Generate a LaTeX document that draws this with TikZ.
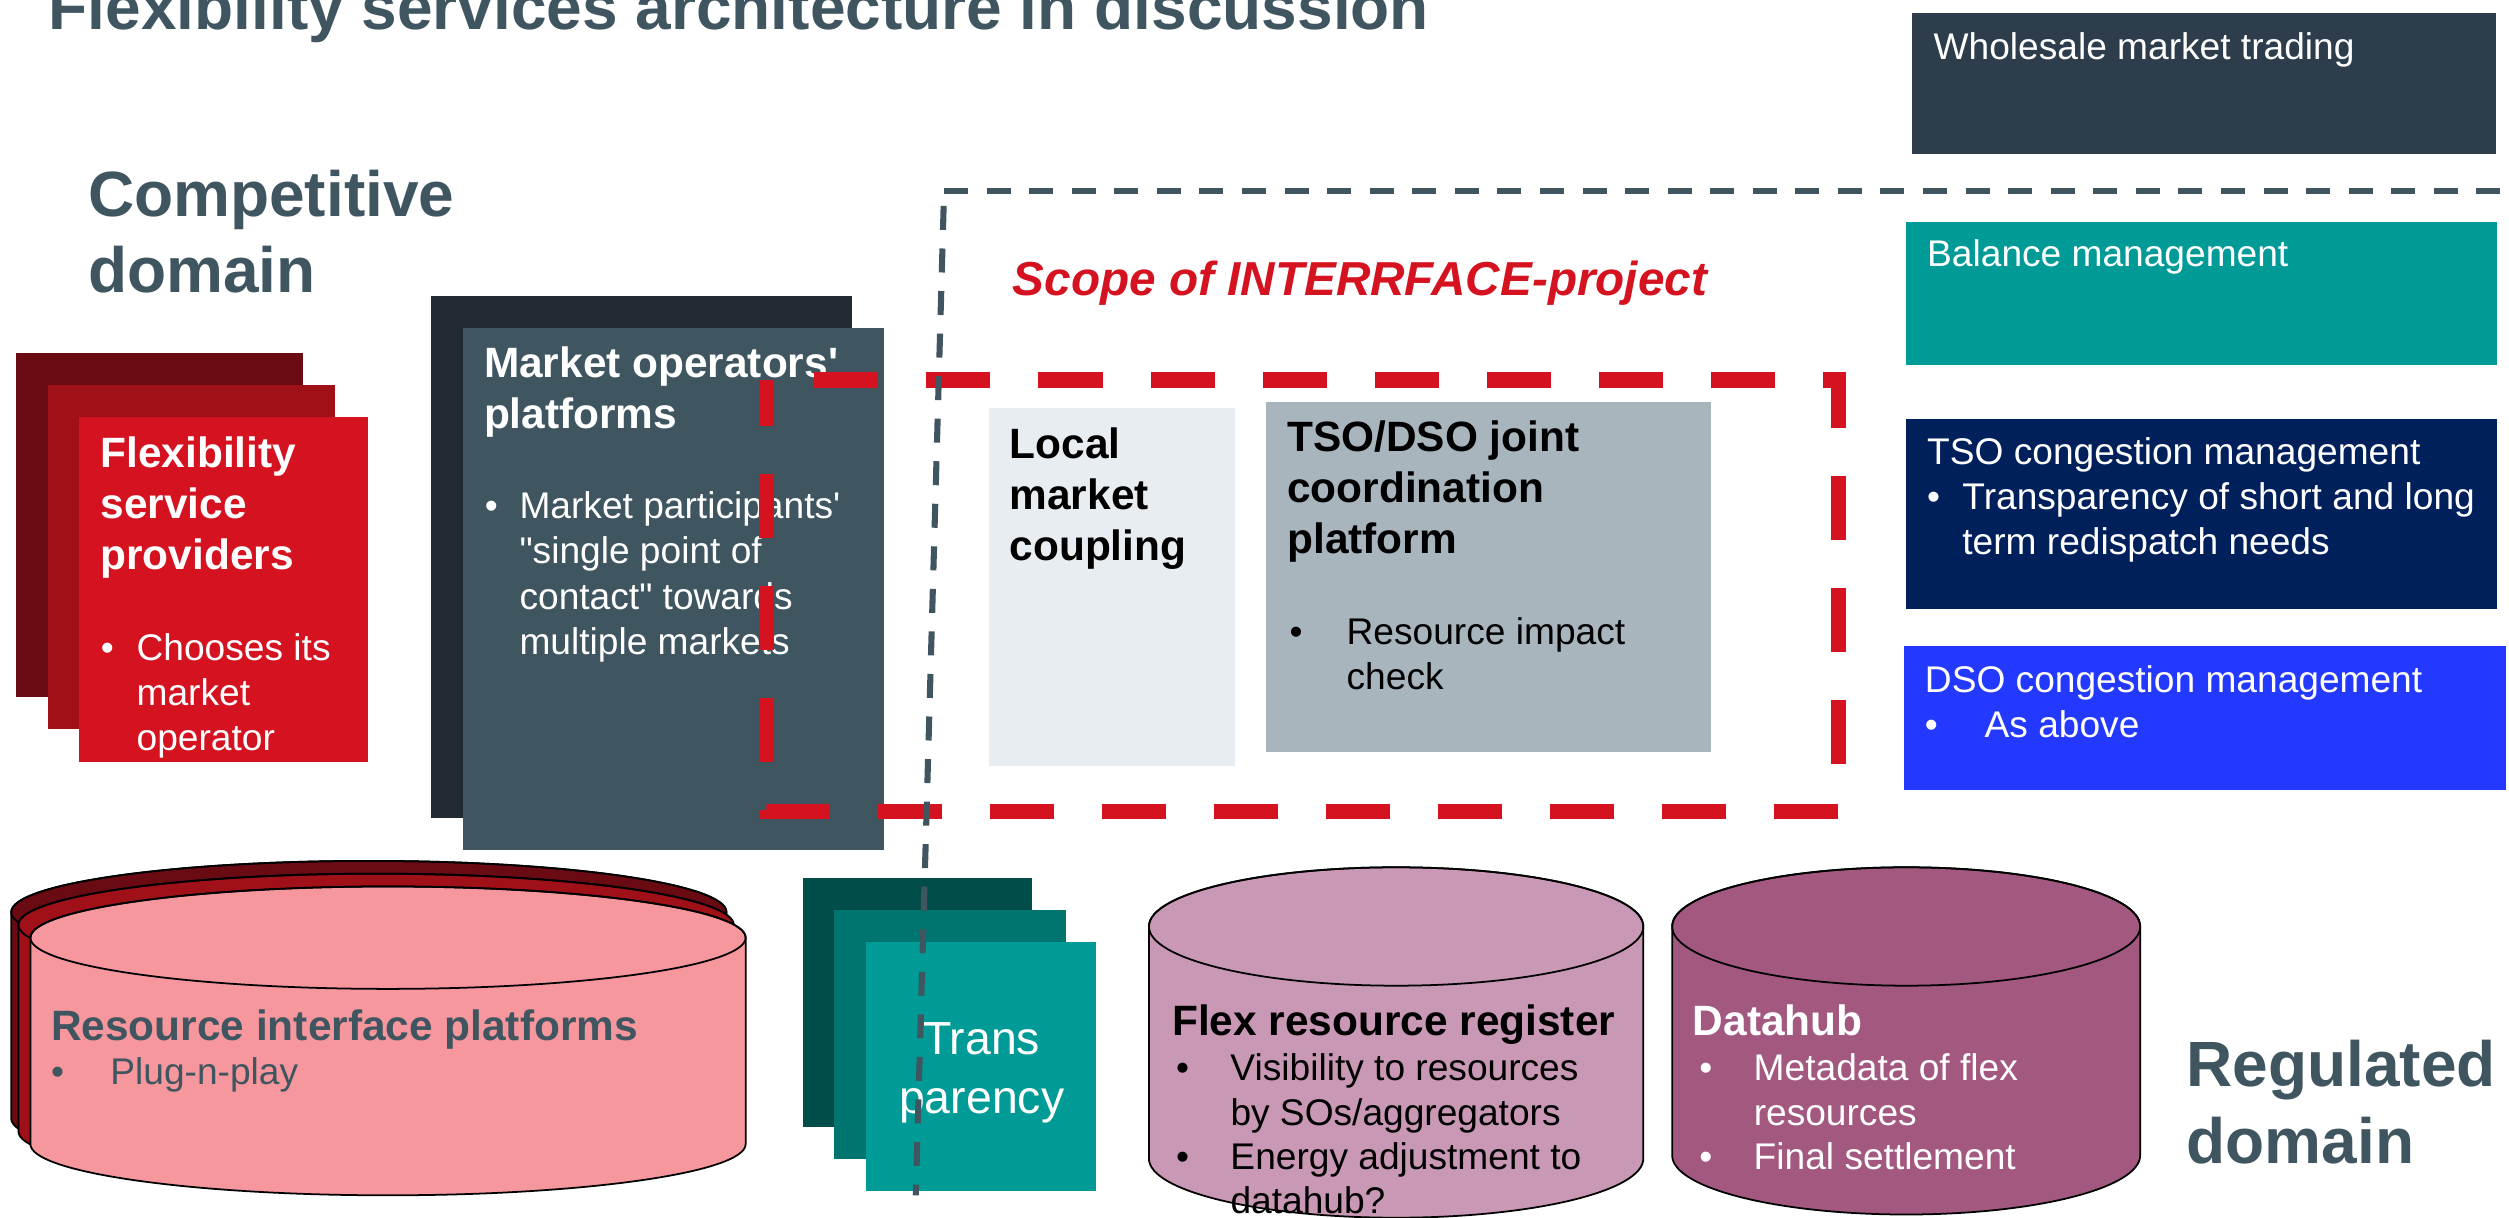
\documentclass[tikz,border=0pt]{standalone}
\usepackage{fontspec}
\newfontfamily\lsans{Liberation Sans}
\definecolor{cSlate}{RGB}{63,85,96}
\definecolor{cMOback}{RGB}{34,43,49}
\definecolor{cWholesale}{RGB}{46,61,75}
\definecolor{cTeal}{RGB}{0,155,150}
\definecolor{cTealMid}{RGB}{0,117,112}
\definecolor{cTealDark}{RGB}{0,77,74}
\definecolor{cNavy}{RGB}{0,32,91}
\definecolor{cBlue}{RGB}{36,57,255}
\definecolor{cRedDark}{RGB}{106,10,18}
\definecolor{cRedMid}{RGB}{160,16,24}
\definecolor{cRed}{RGB}{213,19,32}
\definecolor{cPink}{RGB}{245,151,156}
\definecolor{cLocal}{RGB}{232,237,241}
\definecolor{cJoint}{RGB}{168,181,188}
\definecolor{cFlex}{RGB}{200,152,180}
\definecolor{cHub}{RGB}{162,88,127}
\tikzset{
  box/.style={inner sep=0pt, outer sep=0pt, anchor=north west, draw=none},
  rtxt/.style={inner sep=0pt, outer sep=0pt, anchor=base west, align=left, font=\lsans\fontsize{23.2}{28}\selectfont},
  btxt/.style={rtxt, font=\lsans\bfseries\fontsize{26.5}{32}\selectfont},
  htxt/.style={rtxt, font=\lsans\bfseries\fontsize{40}{48}\selectfont, text=cSlate},
  cylout/.style={draw=black, line width=1.1pt},
  scopeline/.style={draw=cRed, line width=9.5pt, dash pattern=on 40pt off 30pt, dash phase=40pt},
  domline/.style={draw=cSlate, line width=3.8pt, dash pattern=on 15pt off 11.6pt},
}
\begin{document}
\begin{tikzpicture}[x=1pt,y=-1pt]
\useasboundingbox (0,0) rectangle (1568,760.6);

% right column (multi-line text nodes are placed by the baseline of their last line)
\node[box, fill=cWholesale, minimum width=365pt, minimum height=88pt] (wmt) at (1195,8) {};
\node[rtxt, text=white] (wmtT) at (1208.4,36.9) {Wholesale market trading};
\node[box, fill=cTeal, minimum width=369pt, minimum height=89.7pt] (bal) at (1191.3,138.5) {};
\node[rtxt, text=white] (balT) at (1204.4,166.7) {Balance management};
\node[box, fill=cNavy, minimum width=369pt, minimum height=118.8pt] (tso) at (1191.3,262) {};
\node[rtxt, text=white] (tsoT) at (1204.4,346.5) {TSO congestion management\\\makebox[22pt][l]{•}Transparency of short and long\\\hspace*{22pt}term redispatch needs};
\node[box, fill=cBlue, minimum width=376pt, minimum height=90pt] (dso) at (1190,404) {};
\node[rtxt, text=white] (dsoT) at (1203,460.6) {DSO congestion management\\\makebox[37.3pt][l]{•}As above};

% flexibility service providers
\node[box, fill=cRedDark, minimum width=179.5pt, minimum height=215pt] (fsp3) at (10,220.6) {};
\node[box, fill=cRedMid, minimum width=179.5pt, minimum height=215pt] (fsp2) at (30,240.6) {};
\node[box, fill=cRed, minimum width=180.5pt, minimum height=216pt] (fsp1) at (49.5,260.3) {};
\node[btxt, text=white] (fspT) at (62.8,356) {Flexibility\\service\\providers};
\node[rtxt, text=white] (fspB) at (63,469) {\makebox[22.4pt][l]{•}Chooses its\\\hspace*{22.4pt}market\\\hspace*{22.4pt}operator};

% market operators
\node[box, fill=cMOback, minimum width=263pt, minimum height=326pt] (mo2) at (269.5,185) {};
\node[box, fill=cSlate, minimum width=263pt, minimum height=326pt] (mo1) at (289.5,205) {};
\node[btxt, text=white] (moT) at (302.5,268) {Market operators'\\platforms};
\node[rtxt, text=white, font=\lsans\fontsize{23.2}{28.4}\selectfont] (moB) at (303,409.2) {\makebox[21.7pt][l]{•}Market participants'\\\hspace*{21.7pt}"single point of\\\hspace*{21.7pt}contact" towards\\\hspace*{21.7pt}multiple markets};

% local market coupling, joint platform
\node[box, fill=cLocal, minimum width=154pt, minimum height=224pt] (lmc) at (618,255) {};
\node[btxt, text=black] (lmcT) at (631,350.5) {Local\\market\\coupling};
\node[box, fill=cJoint, minimum width=278pt, minimum height=219pt] (jcp) at (791,251) {};
\node[btxt, text=black] (jcpT) at (804.5,346) {TSO/DSO joint\\coordination\\platform};
\node[rtxt, text=black] (jcpB) at (806,431) {\makebox[35.6pt][l]{•}Resource impact\\\hspace*{35.6pt}check};

% scope rectangle
\coordinate (s1) at (479,237.5);
\coordinate (s2) at (1149,507);
\draw[scopeline] (s1) -- (s1 -| s2) -- (s2) -- (s2 -| s1) -- cycle;
\node[rtxt, font=\lsans\bfseries\itshape\fontsize{29.8}{36}\selectfont, text=cRed] (scopeT) at (633,184.4) {Scope of INTERRFACE-project};

% resource interface platforms (stacked cylinders)
\filldraw[cylout, fill=cRedDark] (7,570) -- (7,699) arc[start angle=180, end angle=360, x radius=223.5pt, y radius=32pt] -- (454,570) arc[start angle=0, end angle=180, x radius=223.5pt, y radius=32pt] -- cycle;
\draw[cylout] (230.5,570) ellipse [x radius=223.5pt, y radius=32pt];
\filldraw[cylout, fill=cRedMid] (11.5,578) -- (11.5,707) arc[start angle=180, end angle=360, x radius=223.5pt, y radius=32pt] -- (458.5,578) arc[start angle=0, end angle=180, x radius=223.5pt, y radius=32pt] -- cycle;
\draw[cylout] (235,578) ellipse [x radius=223.5pt, y radius=32pt];
\filldraw[cylout, fill=cPink] (19,586) -- (19,715) arc[start angle=180, end angle=360, x radius=223.5pt, y radius=32pt] -- (466,586) arc[start angle=0, end angle=180, x radius=223.5pt, y radius=32pt] -- cycle;
\draw[cylout] (242.5,586) ellipse [x radius=223.5pt, y radius=32pt];
\node[btxt, text=cSlate] (ripT) at (32,650) {Resource interface platforms};
\node[rtxt, text=cSlate] (ripB) at (32,678) {\makebox[37pt][l]{•}Plug-n-play};

% transparency
\node[box, fill=cTealDark, minimum width=143pt, minimum height=155pt] (tr3) at (502,549) {};
\node[box, fill=cTealMid, minimum width=145pt, minimum height=155pt] (tr2) at (521,569) {};
\node[box, fill=cTeal, minimum width=144pt, minimum height=155pt] (tr1) at (541,589) {};
\node[rtxt, align=center, anchor=base, font=\lsans\fontsize{29}{37}\selectfont, text=white] (trT) at (613.5,696) {Trans\\parency};

% flex resource register
\filldraw[cylout, fill=cFlex] (718,579) -- (718,724) arc[start angle=180, end angle=360, x radius=154.5pt, y radius=37pt] -- (1027,579) arc[start angle=0, end angle=180, x radius=154.5pt, y radius=37pt] -- cycle;
\draw[cylout] (872.5,579) ellipse [x radius=154.5pt, y radius=37pt];
\node[btxt, text=black] (frrT) at (732.5,647) {Flex resource register};
\node[rtxt, text=black, font=\lsans\fontsize{23.2}{27.7}\selectfont] (frrB) at (735,758.6) {\makebox[34pt][l]{•}Visibility to resources\\\hspace*{34pt}by SOs/aggregators\\\makebox[34pt][l]{•}Energy adjustment to\\\hspace*{34pt}datahub?};

% datahub
\filldraw[cylout, fill=cHub] (1045,579) -- (1045,722) arc[start angle=180, end angle=360, x radius=146.25pt, y radius=37pt] -- (1337.5,579) arc[start angle=0, end angle=180, x radius=146.25pt, y radius=37pt] -- cycle;
\draw[cylout] (1191.25,579) ellipse [x radius=146.25pt, y radius=37pt];
\node[btxt, text=white] (dhT) at (1058,647) {Datahub};
\node[rtxt, text=white, font=\lsans\fontsize{23.2}{27.7}\selectfont] (dhB) at (1062,730.9) {\makebox[34pt][l]{•}Metadata of flex\\\hspace*{34pt}resources\\\makebox[34pt][l]{•}Final settlement};

% domain boundary
\coordinate (gC) at (590,119.2);
\coordinate (gR) at (1563,119.2);
\coordinate (gB) at (572.3,747);
\draw[domline] (gC) -- (gR);
\draw[domline, dash phase=17.1pt] (gC) -- (gB);

% headings
\node[htxt] (title) at (30.5,18.5) {Flexibility services architecture in discussion};
\node[htxt] (comp) at (55,183) {Competitive\\domain};
\node[htxt] (reg) at (1366.5,727) {Regulated\\domain};
\end{tikzpicture}
\end{document}
